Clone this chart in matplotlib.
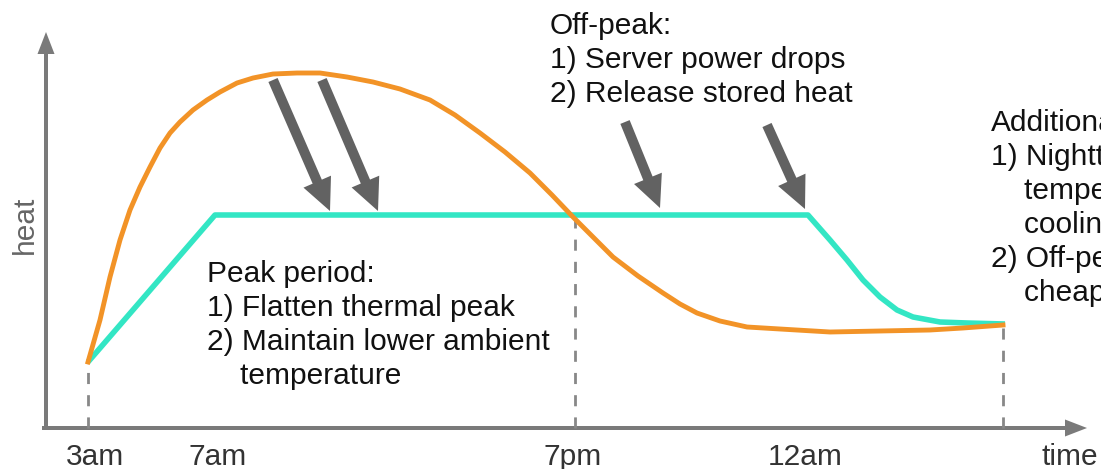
import matplotlib
matplotlib.use("Agg")
import matplotlib.pyplot as plt
from matplotlib.patches import FancyArrow

# ---- data (schematic time position, heat level) ----
orange_x = [88, 100, 110, 120, 130, 140, 150, 160, 170, 180, 193, 207, 220, 237, 253, 273,
            297, 320, 347, 373, 400, 430, 455, 480, 505, 530, 552, 573, 593, 613, 638, 663,
            680, 697, 720, 747, 780, 830, 880, 930, 963, 1003]
orange_heat = [66, 108, 151, 188, 218, 241, 261, 280, 295, 306, 318, 328, 336, 345, 350, 354,
               355, 355, 351, 346, 339, 328, 313, 295, 276, 255, 233, 211, 191, 171, 152, 135,
               124, 115, 107, 101, 99, 96, 97, 98, 100, 103]

teal_x = [88, 215, 808, 830, 847, 863, 880, 897, 913, 940, 967, 1005]
teal_heat = [66, 213, 213, 188, 168, 148, 131, 118, 111, 106, 105, 104]

tick_x = [95, 218, 573, 805, 1070]
tick_labels = ["3am", "7am", "7pm", "12am", "time"]

dash_x = [88, 575, 1003]
dash_heat = [66, 213, 104]

arrow_tails = [(273, 348), (322, 348), (625, 306), (767, 303)]
arrow_tips = [(330, 217), (378, 217), (660, 220), (805, 219)]

peak_text = "Peak period:\n1) Flatten thermal peak\n2) Maintain lower ambient\n    temperature"
offpeak_text = "Off-peak:\n1) Server power drops\n2) Release stored heat"
add_text = "Additional:\n1) Nighttime lower\n    temperature for\n    cooling\n2) Off-peak power\n    cheaper"

plt.rcParams['font.family'] = ['Liberation Sans', 'DejaVu Sans']

fig = plt.figure(figsize=(11.01, 4.69), dpi=100)
ax = fig.add_axes([0, 0, 1, 1])
ax.set_xlim(0, 1101)
ax.set_ylim(-41, 428)
ax.axis('off')

axis_col = '#7a7a7a'
# axes arrows
ax.add_patch(FancyArrow(46, 0, 0, 396, width=4, head_width=17, head_length=22,
                        length_includes_head=True, color=axis_col, lw=0))
ax.add_patch(FancyArrow(42, 0, 1045, 0, width=4, head_width=17, head_length=22,
                        length_includes_head=True, color=axis_col, lw=0))

# dashed guides
for x, h in zip(dash_x, dash_heat):
    ax.plot([x, x], [0, h], color='#888888', lw=2, dashes=(4, 4), zorder=1)

# curves
ax.plot(teal_x, teal_heat, color='#33E6C4', lw=4, solid_capstyle='butt',
        solid_joinstyle='round', zorder=3)
ax.plot(orange_x, orange_heat, color='#F29327', lw=3.5, solid_joinstyle='round', zorder=4)

# gray arrows
for (x0, y0), (x1, y1) in zip(arrow_tails, arrow_tips):
    ax.add_patch(FancyArrow(x0, y0, x1 - x0, y1 - y0, width=10, head_width=30,
                            head_length=32, length_includes_head=True,
                            color='#626262', lw=0, zorder=5))

fs = 21.5
for x, lab in zip(tick_x, tick_labels):
    ax.text(x, -37, lab, ha='center', va='baseline', fontsize=fs, color='#333333')

ax.text(25, 203, "heat", rotation=90, ha='center', va='center', fontsize=fs,
        color='#666666')

ax.text(207, 168, peak_text, ha='left', va='top', fontsize=fs, color='#111111',
        linespacing=1.27)
ax.text(550, 416, offpeak_text, ha='left', va='top', fontsize=fs, color='#111111',
        linespacing=1.27)
ax.text(991, 319, add_text, ha='left', va='top', fontsize=fs, color='#111111',
        linespacing=1.27)

fig.savefig("out.png", dpi=100)
